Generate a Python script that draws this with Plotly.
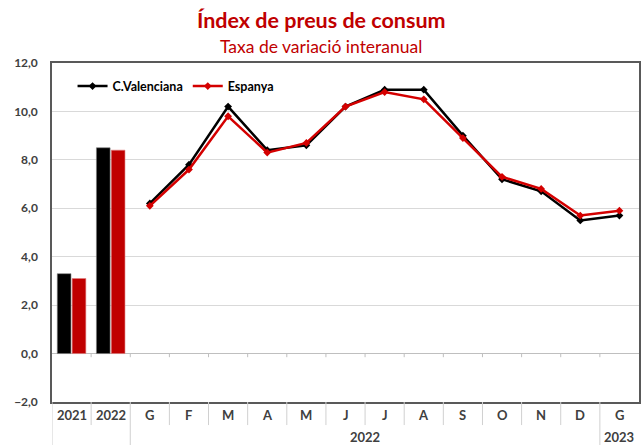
import plotly.graph_objects as go

# ---- data ----
annual_labels = ["2021", "2022"]
annual_cv = [3.3, 8.5]
annual_es = [3.1, 8.4]

month_labels = ["G", "F", "M", "A", "M", "J", "J", "A", "S", "O", "N", "D", "G"]
monthly_cv = [6.2, 7.8, 10.2, 8.4, 8.6, 10.2, 10.9, 10.9, 9.0, 7.2, 6.7, 5.5, 5.7]
monthly_es = [6.1, 7.6, 9.8, 8.3, 8.7, 10.2, 10.8, 10.5, 8.9, 7.3, 6.8, 5.7, 5.9]

group_labels = ["2022", "2023"]
series_names = ["C.Valenciana", "Espanya"]

title_text = "Índex de preus de consum"
subtitle_text = "Taxa de variació interanual"

# ---- styling ----
BLACK = "#000000"
RED = "#C00000"
LINE_RED = "#D40000"
TXT = "#404040"
FONT = "Lato"

n_ann = len(annual_labels)
x_ann = list(range(n_ann))
x_mon = list(range(n_ann, n_ann + len(month_labels)))
all_labels = annual_labels + month_labels
n_all = len(all_labels)

fig = go.Figure()
fig.add_trace(go.Bar(x=x_ann, y=annual_cv, marker=dict(color=BLACK, line=dict(color="#7f7f7f", width=0.6)),
                     showlegend=False, name=series_names[0]))
fig.add_trace(go.Bar(x=x_ann, y=annual_es, marker=dict(color=RED, line=dict(color="#e08080", width=0.6)),
                     showlegend=False, name=series_names[1]))
fig.add_trace(go.Scatter(x=x_mon, y=monthly_cv, mode="lines+markers", name=series_names[0],
                         line=dict(color=BLACK, width=2.5),
                         marker=dict(symbol="diamond", size=6, color=BLACK)))
fig.add_trace(go.Scatter(x=x_mon, y=monthly_es, mode="lines+markers", name=series_names[1],
                         line=dict(color=LINE_RED, width=2.5),
                         marker=dict(symbol="diamond", size=6, color=LINE_RED)))

shapes = []
# category separators below the axis
for i in range(1, n_all):
    b = i - 0.5
    long = (b == n_ann - 0.5) or (b == n_all - 1.5)
    shapes.append(dict(type="line", xref="x", yref="paper", x0=b, x1=b, y0=0,
                       y1=-0.13 if long else -0.068,
                       line=dict(color="#D0D0D0", width=1)))
    # small ticks at the zero line
    shapes.append(dict(type="line", xref="x", yref="y", x0=b, x1=b, y0=0, y1=-0.15,
                       line=dict(color="#BFBFBF", width=1)))
shapes.append(dict(type="line", xref="x", yref="paper", x0=-0.5, x1=-0.5, y0=0, y1=-0.13,
                   line=dict(color="#D0D0D0", width=1)))

annotations = []
for i, lab in enumerate(all_labels):
    annotations.append(dict(x=i, y=-0.037, xref="x", yref="paper", text=f"<b>{lab}</b>",
                            yanchor="middle", showarrow=False,
                            font=dict(family=FONT, size=13, color=TXT)))
annotations.append(dict(x=(n_ann + n_all - 2) / 2, y=-0.103, xref="x", yref="paper",
                        text=f"<b>{group_labels[0]}</b>", showarrow=False, yanchor="middle",
                        font=dict(family=FONT, size=13, color=TXT)))
annotations.append(dict(x=n_all - 1, y=-0.103, xref="x", yref="paper",
                        text=f"<b>{group_labels[1]}</b>", showarrow=False, yanchor="middle",
                        font=dict(family=FONT, size=13, color=TXT)))
annotations.append(dict(x=0.459, y=1.127, xref="paper", yref="paper", text=f"<b>{title_text}</b>",
                        showarrow=False, yanchor="middle",
                        font=dict(family=FONT, size=21.5, color="#C00000")))
annotations.append(dict(x=0.459, y=1.050, xref="paper", yref="paper", text=subtitle_text,
                        showarrow=False, yanchor="middle",
                        font=dict(family=FONT, size=17.5, color="#C00000")))

fig.update_layout(
    width=644, height=445,
    margin=dict(l=52, r=3, t=63, b=43),
    paper_bgcolor="white", plot_bgcolor="white",
    separators=",.",
    barmode="group", bargap=0.24, bargroupgap=0.08,
    font=dict(family=FONT, color=TXT),
    showlegend=True,
    legend=dict(orientation="h", x=0.035, y=0.975, xanchor="left", yanchor="top",
                bgcolor="rgba(0,0,0,0)", font=dict(family=FONT, size=12.5, color="#000000", weight="bold"),
                itemwidth=30, tracegroupgap=0),
    shapes=shapes,
    annotations=annotations,
)
fig.update_xaxes(range=[-0.5, n_all - 0.5], showticklabels=False, showgrid=False, zeroline=False,
                 showline=True, linecolor="#595959", linewidth=1.5, mirror=True, ticks="")
fig.update_yaxes(range=[-2, 12], dtick=2, tickformat=".1f", showgrid=True, gridcolor="#D9D9D9",
                 gridwidth=1, zeroline=True, zerolinecolor="#BFBFBF", zerolinewidth=1,
                 showline=True, linecolor="#595959", linewidth=1.5, mirror=True, ticks="",
                 ticklabelstandoff=10,
                 tickfont=dict(family=FONT, size=12, color=TXT, weight="bold"))

fig.write_html("out.html", config={"displayModeBar": False},
               post_script="document.body.style.margin='0';document.body.style.overflow='hidden';")
